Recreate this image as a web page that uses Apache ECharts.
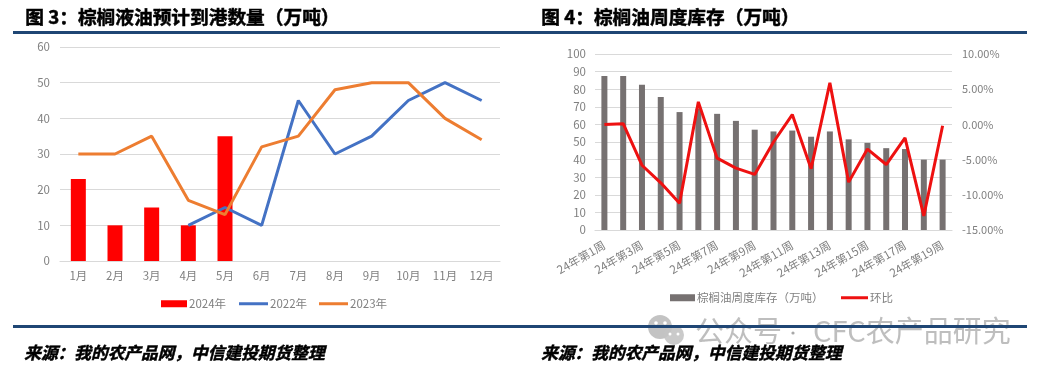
<!DOCTYPE html>
<html><head><meta charset="utf-8">
<style>html,body{margin:0;padding:0;background:#fff}#c{width:1044px;height:374px}</style>
<script src="https://cdn.jsdelivr.net/npm/echarts@6/dist/echarts.min.js"></script></head>
<body><div id="c"></div>
<script>
const months=['1月','2月','3月','4月','5月','6月','7月','8月','9月','10月','11月','12月'];
const arrivals2024=[23,10,15,10,35,null,null,null,null,null,null,null];
const arrivals2022=[null,null,null,10,15,10,45,30,35,45,50,45];
const arrivals2023=[30,30,35,17,13,32,35,48,50,50,40,34];
const weeks=[];
for(let i=1;i<=19;i++)weeks.push('24年第'+i+'周');
const stock=[87.5,87.5,82.5,75.5,67,69,66,62,57,56,56.5,53,56,51.5,49.5,46.5,46,40,40];
const change=[0,0.1,-5.8,-8.3,-11.2,3.2,-4.8,-6.2,-7.1,-2.5,1.4,-6.3,5.9,-8.2,-3.5,-5.7,-1.9,-13,-0.2];

const FONT='"Noto Sans CJK SC"';
const GREY='#808080', GRID='#d9d9d9', NAVY='#1f4674';
const axisText={color:GREY,fontSize:11.5,fontFamily:FONT};
const legendText={color:GREY,fontSize:11.5,fontFamily:FONT,padding:[0,0,0,-3]};
function txt(x,y,s,opt){return {type:'text',left:x,top:y,z:10,style:Object.assign({text:s,fill:'#000',stroke:'#000',lineWidth:0.5,fontFamily:FONT,fontWeight:'bold',fontSize:18.7},opt||{})};}
function rule(x1,x2,y,h){return {type:'rect',shape:{x:x1,y:y,width:x2-x1,height:h},style:{fill:NAVY},z:5};}
const wmStyle={fill:'rgba(150,150,150,0.62)',fontSize:29,fontFamily:FONT};
function wm(){return {type:'group',z:20,children:[
 {type:'circle',shape:{cx:660,cy:327,r:12},style:{fill:'#b8b8b8',opacity:.85}},
 {type:'circle',shape:{cx:674,cy:335,r:10},style:{fill:'#c4c4c4',opacity:.9}},
 {type:'circle',shape:{cx:656,cy:323,r:1.8},style:{fill:'#fff'}},
 {type:'circle',shape:{cx:665,cy:323,r:1.8},style:{fill:'#fff'}},
 {type:'circle',shape:{cx:670,cy:334,r:1.5},style:{fill:'#fff'}},
 {type:'circle',shape:{cx:678,cy:334,r:1.5},style:{fill:'#fff'}},
 {type:'text',left:695,top:316,style:Object.assign({text:'公众号'},wmStyle)},
 {type:'circle',shape:{cx:793,cy:333,r:1.6},style:{fill:'#a8a8a8'}},
 {type:'text',left:813,top:316,style:Object.assign({text:'CFC农产品研究'},wmStyle)}
]};}
const chart=echarts.init(document.getElementById('c'),null,{renderer:'canvas'});
chart.setOption({
 animation:false,backgroundColor:'#fff',
 textStyle:{fontFamily:FONT},
 grid:[
  {left:60,right:544,top:47,height:214},
  {left:595,right:92,top:54,height:176}
 ],
 xAxis:[
  {type:'category',gridIndex:0,data:months,axisTick:{show:false},axisLine:{lineStyle:{color:GRID,width:1.2}},axisLabel:Object.assign({},axisText,{interval:0,margin:9})},
  {type:'category',gridIndex:1,data:weeks,axisTick:{show:false},axisLine:{lineStyle:{color:GRID,width:1.2}},axisLabel:Object.assign({},axisText,{interval:1,rotate:30,margin:14})}
 ],
 yAxis:[
  {type:'value',gridIndex:0,min:0,max:60,interval:10,axisLine:{show:false},axisTick:{show:false},splitLine:{lineStyle:{color:GRID,width:1.2}},axisLabel:Object.assign({},axisText,{margin:10})},
  {type:'value',gridIndex:1,min:0,max:100,interval:10,axisLine:{show:false},axisTick:{show:false},splitLine:{lineStyle:{color:GRID,width:1.2}},axisLabel:Object.assign({},axisText,{margin:9})},
  {type:'value',gridIndex:1,position:'right',min:-15,max:10,interval:5,axisLine:{show:false},axisTick:{show:false},splitLine:{show:false},axisLabel:Object.assign({},axisText,{fontSize:11,margin:10,formatter:v=>v.toFixed(2)+'%'})}
 ],
 legend:[
  {data:['2024年'],left:161,top:298,icon:'rect',itemWidth:26,itemHeight:7,textStyle:legendText,padding:0},
  {data:['2022年'],left:239,top:298,icon:'rect',itemWidth:29,itemHeight:3,textStyle:legendText,padding:0},
  {data:['2023年'],left:319,top:298,icon:'rect',itemWidth:29,itemHeight:3,textStyle:legendText,padding:0},
  {data:['棕榈油周度库存（万吨）'],left:670,top:292,icon:'rect',itemWidth:25,itemHeight:7,textStyle:legendText,padding:0},
  {data:['环比'],left:841,top:292,icon:'rect',itemWidth:27,itemHeight:3,textStyle:legendText,padding:0}
 ],
 series:[
  {name:'2024年',type:'bar',xAxisIndex:0,yAxisIndex:0,data:arrivals2024,barWidth:15,itemStyle:{color:'#ff0000'}},
  {name:'2022年',type:'line',xAxisIndex:0,yAxisIndex:0,data:arrivals2022,symbol:'none',itemStyle:{color:'#4472c4'},lineStyle:{color:'#4472c4',width:3}},
  {name:'2023年',type:'line',xAxisIndex:0,yAxisIndex:0,data:arrivals2023,symbol:'none',itemStyle:{color:'#ed7d31'},lineStyle:{color:'#ed7d31',width:3}},
  {name:'棕榈油周度库存（万吨）',type:'bar',xAxisIndex:1,yAxisIndex:1,data:stock,barWidth:6,itemStyle:{color:'#767171'}},
  {name:'环比',type:'line',xAxisIndex:1,yAxisIndex:2,data:change,symbol:'none',itemStyle:{color:'#ee1111'},lineStyle:{color:'#ee1111',width:3}}
 ],
 graphic:[
  rule(13,520,31,3), rule(520,1027,31,3),
  rule(13,520,325,3), rule(520,1027,325,3),
  txt(25,7,'图 3：棕榈液油预计到港数量（万吨）'),
  txt(541,7,'图 4：棕榈油周度库存（万吨）'),
  txt(24,344,'来源：我的农产品网，中信建投期货整理',{fontStyle:'italic',fontSize:16.7}),
  txt(541,344,'来源：我的农产品网，中信建投期货整理',{fontStyle:'italic',fontSize:16.7}),
  wm()
 ]
});
</script></body></html>
